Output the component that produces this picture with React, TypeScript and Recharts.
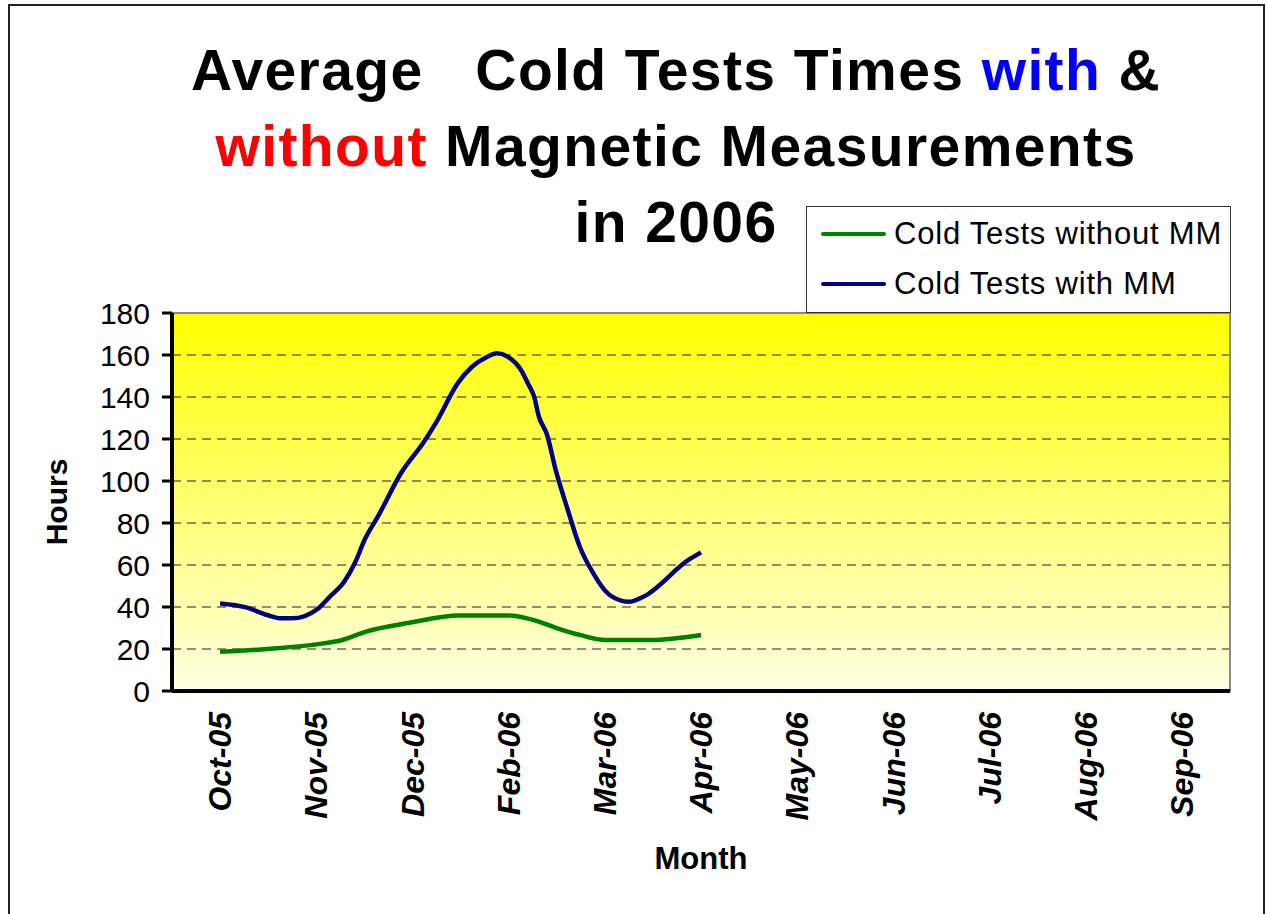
import {
  LineChart, Line, XAxis, YAxis, CartesianGrid, Legend, ReferenceArea
} from 'recharts'

const months = ['Oct-05', 'Nov-05', 'Dec-05', 'Feb-06', 'Mar-06', 'Apr-06', 'May-06', 'Jun-06', 'Jul-06', 'Aug-06', 'Sep-06']
const hourTicks = [0, 20, 40, 60, 80, 100, 120, 140, 160, 180]
const seriesNames = ['Cold Tests without MM', 'Cold Tests with MM']

// position is in month slots (0 = Oct-05)
const withoutMMPos = [0, 0.49, 1.0, 1.27, 1.51, 1.97, 2.49, 3.0, 3.28, 3.49, 3.74, 4.01, 4.48, 5.0]
const withoutMMHours = [18.7, 20, 22.2, 24.3, 28.2, 32.5, 35.9, 35.9, 33.5, 30.1, 26.7, 24.3, 24.3, 26.7]

const withMMPos = [0, 0.27, 0.49, 0.64, 0.75, 0.88, 1.01, 1.14, 1.29, 1.4, 1.51, 1.64, 1.88, 2.12, 2.25, 2.47, 2.62, 2.77, 2.88, 2.99, 3.14, 3.2, 3.27, 3.31, 3.4, 3.49, 3.61, 3.74, 3.87, 4.05, 4.25, 4.4, 4.87, 5.0]
const withMMHours = [41.7, 39.8, 36.2, 34.6, 34.6, 35.7, 38.9, 44.9, 52, 60.8, 72.7, 83, 103.7, 118.7, 128.2, 146.5, 154.4, 158.9, 160.8, 159.2, 152, 146.5, 139.4, 131.4, 121.9, 105.2, 87, 68.7, 56.8, 45.7, 42.5, 44.9, 62.4, 66]

const withoutMM = withoutMMPos.map((x, i) => ({ x, hours: withoutMMHours[i] }))
const withMM = withMMPos.map((x, i) => ({ x, hours: withMMHours[i] }))

const font = '"Liberation Sans", Arial, sans-serif'
const monthTicks = months.map((_, i) => i)
const edgeTicks = [...monthTicks, months.length].map(i => i - 0.5)

function MonthTick({ x, y, payload }: any) {
  return (
    <text x={x} y={y} transform={`rotate(-90, ${x}, ${y})`} textAnchor="end" dy="0.35em"
      fontSize={32} fontWeight="bold" fontStyle="italic" fill="#000" fontFamily={font}>
      {months[payload.value]}
    </text>
  )
}

function LegendBox({ payload }: any) {
  const items = [...(payload || [])].sort(
    (a: any, b: any) => seriesNames.indexOf(a.value) - seriesNames.indexOf(b.value)
  )
  return (
    <div style={{
      width: 423, height: 103, border: '1px solid #333', background: '#fff',
      fontFamily: font, fontSize: 31, color: '#000', paddingTop: 2, boxSizing: 'content-box'
    }}>
      {items.map((p: any) => (
        <div key={p.value} style={{ display: 'flex', alignItems: 'center', height: 50 }}>
          <div style={{ width: 65, height: 4, borderRadius: 2, background: p.color, marginLeft: 14, marginRight: 8 }} />
          <span style={{ whiteSpace: 'nowrap', letterSpacing: 0.8 }}>{p.value}</span>
        </div>
      ))}
    </div>
  )
}

const titleLine = { height: 76, lineHeight: '76px', whiteSpace: 'pre' as const }

export default function App() {
  return (
    <div style={{ position: 'absolute', left: 0, top: 0, width: 1267, height: 914, background: '#fff', overflow: 'hidden' }}>
      <div style={{ position: 'absolute', left: 8, top: 4, width: 1253, height: 920, border: '2px solid #222' }} />
      <div style={{
        position: 'absolute', left: 86, top: 32, width: 1180, textAlign: 'center',
        fontFamily: font, fontWeight: 'bold', fontSize: 57, letterSpacing: 1.4, color: '#000'
      }}>
        <div style={titleLine}>Average   Cold Tests Times <span style={{ color: '#0000ff' }}>with</span> &amp;</div>
        <div style={titleLine}><span style={{ color: '#ff0000' }}>without</span> Magnetic Measurements</div>
        <div style={titleLine}>in 2006</div>
      </div>

      <div style={{ position: 'absolute', left: 0, top: 0 }}>
        <LineChart width={1267} height={914} margin={{ top: 313, right: 37, bottom: 31, left: 112 }}>
          <defs>
            <linearGradient id="plotBg" x1="0" y1="0" x2="0" y2="1">
              <stop offset="0%" stopColor="#ffff00" />
              <stop offset="100%" stopColor="#ffffe4" />
            </linearGradient>
          </defs>
          <CartesianGrid xAxisId="edge" vertical={false} fill="url(#plotBg)" fillOpacity={1}
            stroke="#222" strokeDasharray="9 6" />
          <ReferenceArea xAxisId="edge" x1={-0.5} x2={months.length - 0.5} y1={0} y2={180}
            fill="none" stroke="#888" strokeWidth={2} ifOverflow="visible" />
          <XAxis xAxisId="edge" type="number" dataKey="x" domain={[-0.5, months.length - 0.5]}
            allowDataOverflow ticks={edgeTicks} interval={0} tick={false} height={12}
            tickSize={9} axisLine={{ stroke: '#000', strokeWidth: 4 }} tickLine={{ stroke: '#000', strokeWidth: 3 }} />
          <XAxis xAxisId="month" type="number" dataKey="x" domain={[-0.5, months.length - 0.5]}
            allowDataOverflow ticks={monthTicks} interval={0} height={180}
            axisLine={false} tickLine={false} tickSize={0} tickMargin={9} tick={<MonthTick />}
            label={{
              content: ({ viewBox }: any) => (
                <text x={viewBox.x + viewBox.width / 2} y={viewBox.y + 166} textAnchor="middle"
                  fontSize={31} fontWeight="bold" fontFamily={font} fill="#000">Month</text>
              )
            }} />
          <YAxis type="number" domain={[0, 180]} ticks={hourTicks} interval={0} width={60}
            tickSize={10} tickMargin={12}
            tick={{ fontSize: 30, fill: '#000', fontFamily: font }}
            axisLine={{ stroke: '#000', strokeWidth: 4 }} tickLine={{ stroke: '#000', strokeWidth: 3 }}
            label={{
              content: ({ viewBox }: any) => {
                const cx = viewBox.x - 56
                const cy = viewBox.y + viewBox.height / 2
                return (
                  <text x={cx} y={cy} transform={`rotate(-90, ${cx}, ${cy})`} textAnchor="middle"
                    dy="0.35em" fontSize={30} fontWeight="bold" fontFamily={font} fill="#000">Hours</text>
                )
              }
            }} />
          <Legend layout="vertical" align="center" verticalAlign="middle" content={<LegendBox />}
            wrapperStyle={{ position: 'absolute', left: 806, top: 206, width: 'auto' }} />
          <Line xAxisId="edge" data={withoutMM} dataKey="hours" name={seriesNames[0]} type="monotone"
            stroke="#008000" strokeWidth={4.5} dot={false} isAnimationActive={false} />
          <Line xAxisId="edge" data={withMM} dataKey="hours" name={seriesNames[1]} type="monotone"
            stroke="#000080" strokeWidth={4.5} dot={false} isAnimationActive={false} />
        </LineChart>
      </div>
    </div>
  )
}
